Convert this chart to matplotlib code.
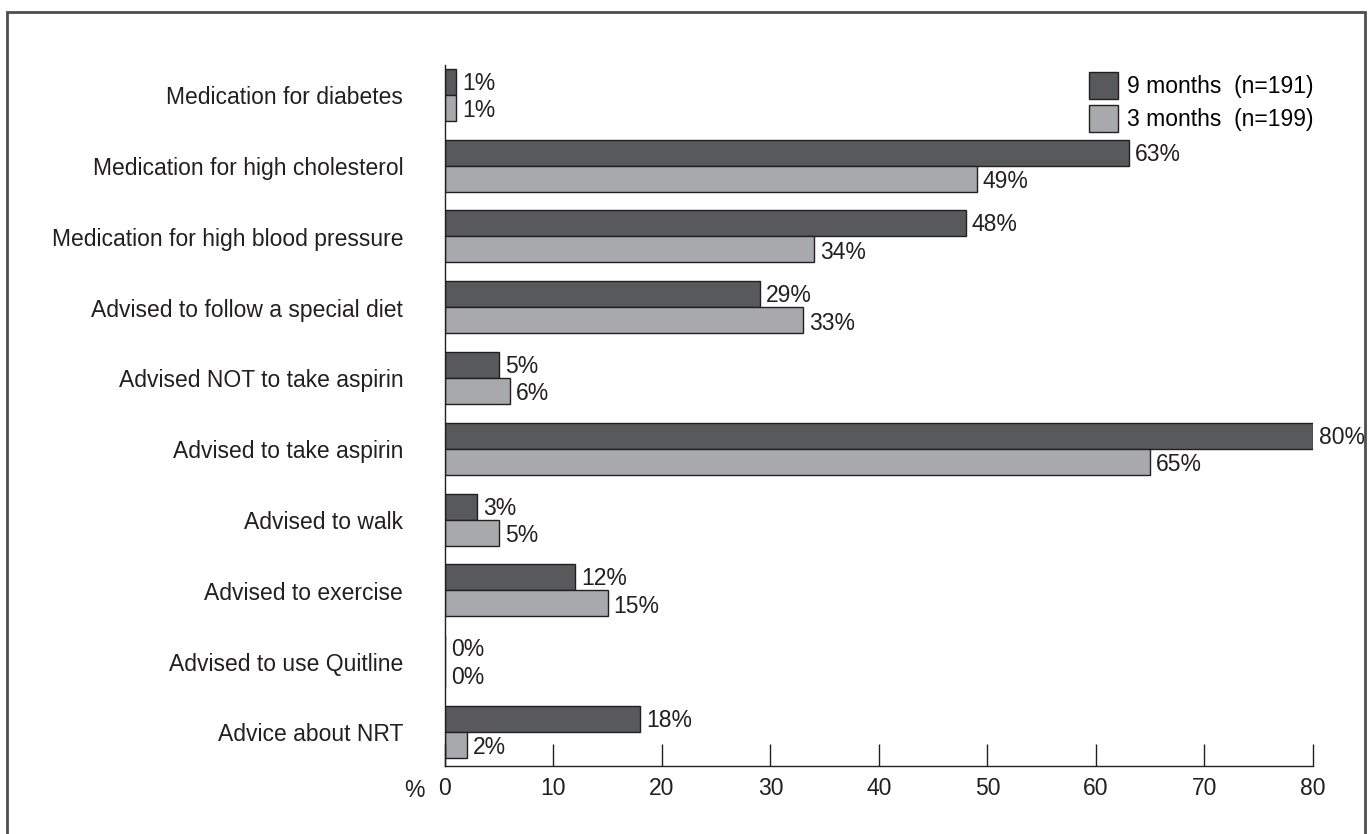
import numpy as np
import matplotlib.pyplot as plt
from matplotlib.patches import Rectangle, Patch

plt.rcParams['font.family'] = ['Liberation Sans', 'DejaVu Sans']

# Advice / medication categories, top to bottom
categories = [
    'Medication for diabetes',
    'Medication for high cholesterol',
    'Medication for high blood pressure',
    'Advised to follow a special diet',
    'Advised NOT to take aspirin',
    'Advised to take aspirin',
    'Advised to walk',
    'Advised to exercise',
    'Advised to use Quitline',
    'Advice about NRT',
]
months9 = [1, 63, 48, 29, 5, 80, 3, 12, 0, 18]
months3 = [1, 49, 34, 33, 6, 65, 5, 15, 0, 2]
series_labels = ['9 months  (n=191)', '3 months  (n=199)']
x_ticks = [0, 10, 20, 30, 40, 50, 60, 70, 80]

DARK = '#58595b'
LIGHT = '#a7a9ac'
EDGE = '#231f20'
TXT = '#231f20'
FS = 16.5
BAR_H = 0.367

fig = plt.figure(figsize=(13.72, 8.34), dpi=100)
ax = fig.add_axes([0.3243, 0.0815, 0.6327, 0.8405])

y = np.arange(len(categories))
ax.barh(y - BAR_H / 2, months9, height=BAR_H, color=DARK, edgecolor=EDGE, linewidth=1)
ax.barh(y + BAR_H / 2, months3, height=BAR_H, color=LIGHT, edgecolor=EDGE, linewidth=1)

# value labels at the end of each bar
for i in range(len(categories)):
    ax.text(months9[i] + 0.55, y[i] - BAR_H / 2 + 0.02, f'{months9[i]}%', va='center',
            ha='left', fontsize=FS, color=TXT)
    ax.text(months3[i] + 0.55, y[i] + BAR_H / 2 + 0.04, f'{months3[i]}%', va='center',
            ha='left', fontsize=FS, color=TXT)

# category labels
for i, cat in enumerate(categories):
    ax.text(-3.85, y[i] + 0.04, cat, ha='right', va='center', fontsize=FS, color=TXT)

ax.set_xlim(0, 80)
ax.set_ylim(9.48, -0.42)
ax.set_yticks([])
ax.set_xticks(x_ticks)
ax.set_xticklabels([str(t) for t in x_ticks], fontsize=FS, color=TXT)
ax.tick_params(axis='x', direction='in', length=16, width=1, color=EDGE, pad=8)
ax.text(-1.9, -0.019, '%', transform=ax.get_xaxis_transform(), ha='right', va='top',
        fontsize=FS, color=TXT)

for side in ['top', 'right']:
    ax.spines[side].set_visible(False)
for side in ['left', 'bottom']:
    ax.spines[side].set_color(EDGE)
    ax.spines[side].set_linewidth(1)

handles = [Patch(facecolor=DARK, edgecolor=EDGE, linewidth=1),
           Patch(facecolor=LIGHT, edgecolor=EDGE, linewidth=1)]
ax.legend(handles, series_labels, loc='upper right', bbox_to_anchor=(1.0, 0.99),
          frameon=False, fontsize=FS, handlelength=1.3, handleheight=1.4,
          handletextpad=0.35, labelspacing=0.3, borderaxespad=0.0, borderpad=0.0)

# outer frame around the figure
fig.patches.append(Rectangle((7 / 1372, -0.02), (1365 - 7) / 1372, 1.02 - 12 / 834,
                             transform=fig.transFigure, fill=False,
                             edgecolor='#4d4d4d', linewidth=2))

fig.savefig('out.png', dpi=100)
